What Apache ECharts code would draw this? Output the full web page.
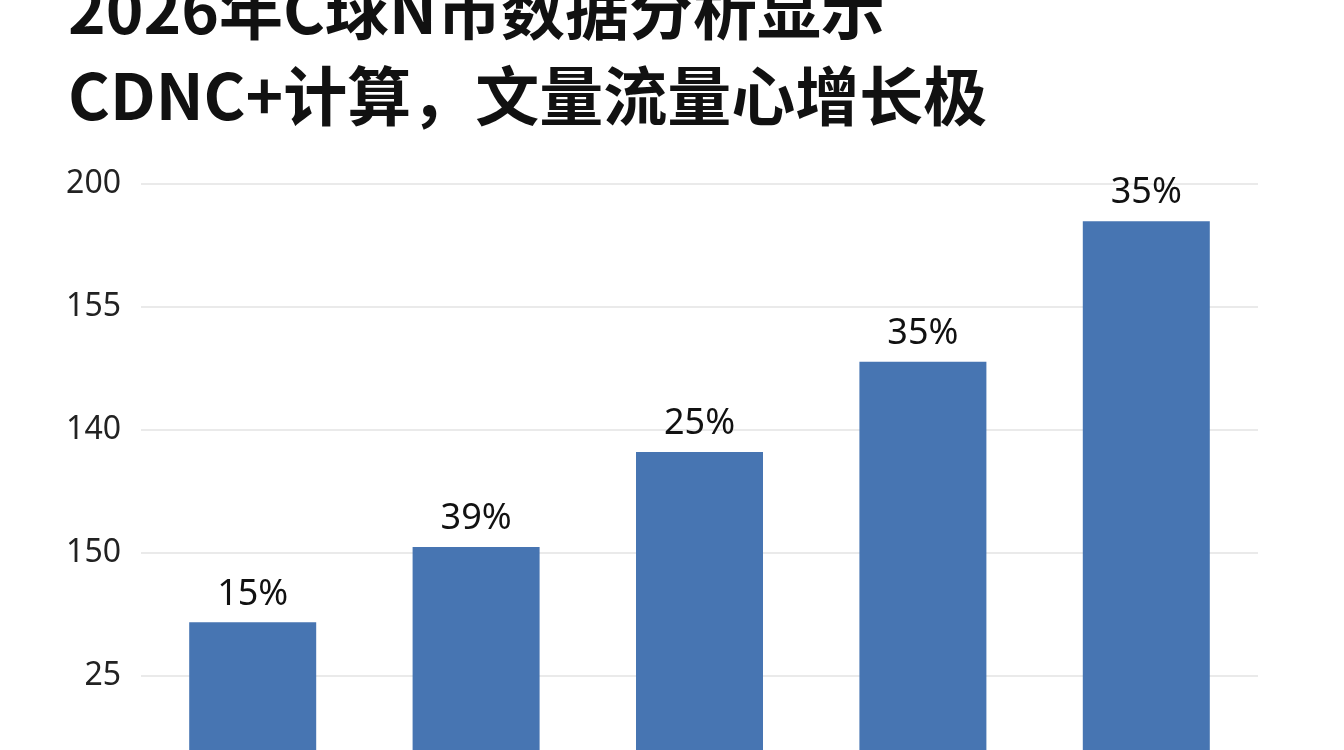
<!DOCTYPE html>
<html>
<head>
<meta charset="utf-8">
<script src="https://cdn.jsdelivr.net/npm/echarts@6/dist/echarts.min.js"></script>
<style>
  html, body { margin: 0; padding: 0; background: #fff; }
  #chart { width: 1344px; height: 750px; }
</style>
</head>
<body>
<div id="chart"></div>
<script>
// Data
const titleLines = ['2026年C球N市数据分析显示', 'CDNC+计算，文量流量心增长极'];
const categories = ['A', 'B', 'C', 'D', 'E'];
const barValues = [57.5, 82, 112.9, 142.2, 187.9];
const barLabels = ['15%', '39%', '25%', '35%', '35%'];
// gridline positions and the labels printed at them, bottom to top
const tickValues = [40, 80, 120, 160, 200];
const tickLabels = ['25', '150', '140', '155', '200'];

const chart = echarts.init(document.getElementById('chart'));

chart.setOption({
  backgroundColor: '#ffffff',
  animation: false,
  title: {
    text: titleLines.join('\n'),
    left: 63,
    top: -38,
    textStyle: {
      fontFamily: 'Noto Sans CJK SC',
      fontSize: 64,
      fontWeight: 'bold',
      lineHeight: 86,
      color: '#111111'
    }
  },
  grid: {
    left: 141,
    right: 86,
    top: 184,
    bottom: 0
  },
  xAxis: {
    type: 'category',
    data: categories,
    axisLine: { show: false },
    axisTick: { show: false },
    axisLabel: { show: false }
  },
  yAxis: {
    type: 'value',
    // the bars are cut off by the lower edge of the picture
    min: 16,
    max: 200,
    axisLine: { show: false },
    axisTick: { show: false, customValues: tickValues },
    axisLabel: {
      customValues: tickValues,
      margin: 20,
      fontFamily: 'Noto Sans',
      fontSize: 32,
      color: '#222222',
      formatter: v => tickLabels[tickValues.indexOf(v)] || ''
    },
    splitLine: { lineStyle: { color: '#e3e3e3', width: 1.5 } }
  },
  series: [{
    type: 'bar',
    data: barValues,
    barWidth: 127,
    itemStyle: { color: '#4775b2' },
    label: {
      show: true,
      position: 'top',
      distance: 10,
      fontFamily: 'Noto Sans',
      fontSize: 36,
      color: '#111111',
      formatter: p => barLabels[p.dataIndex]
    }
  }]
});
</script>
</body>
</html>
